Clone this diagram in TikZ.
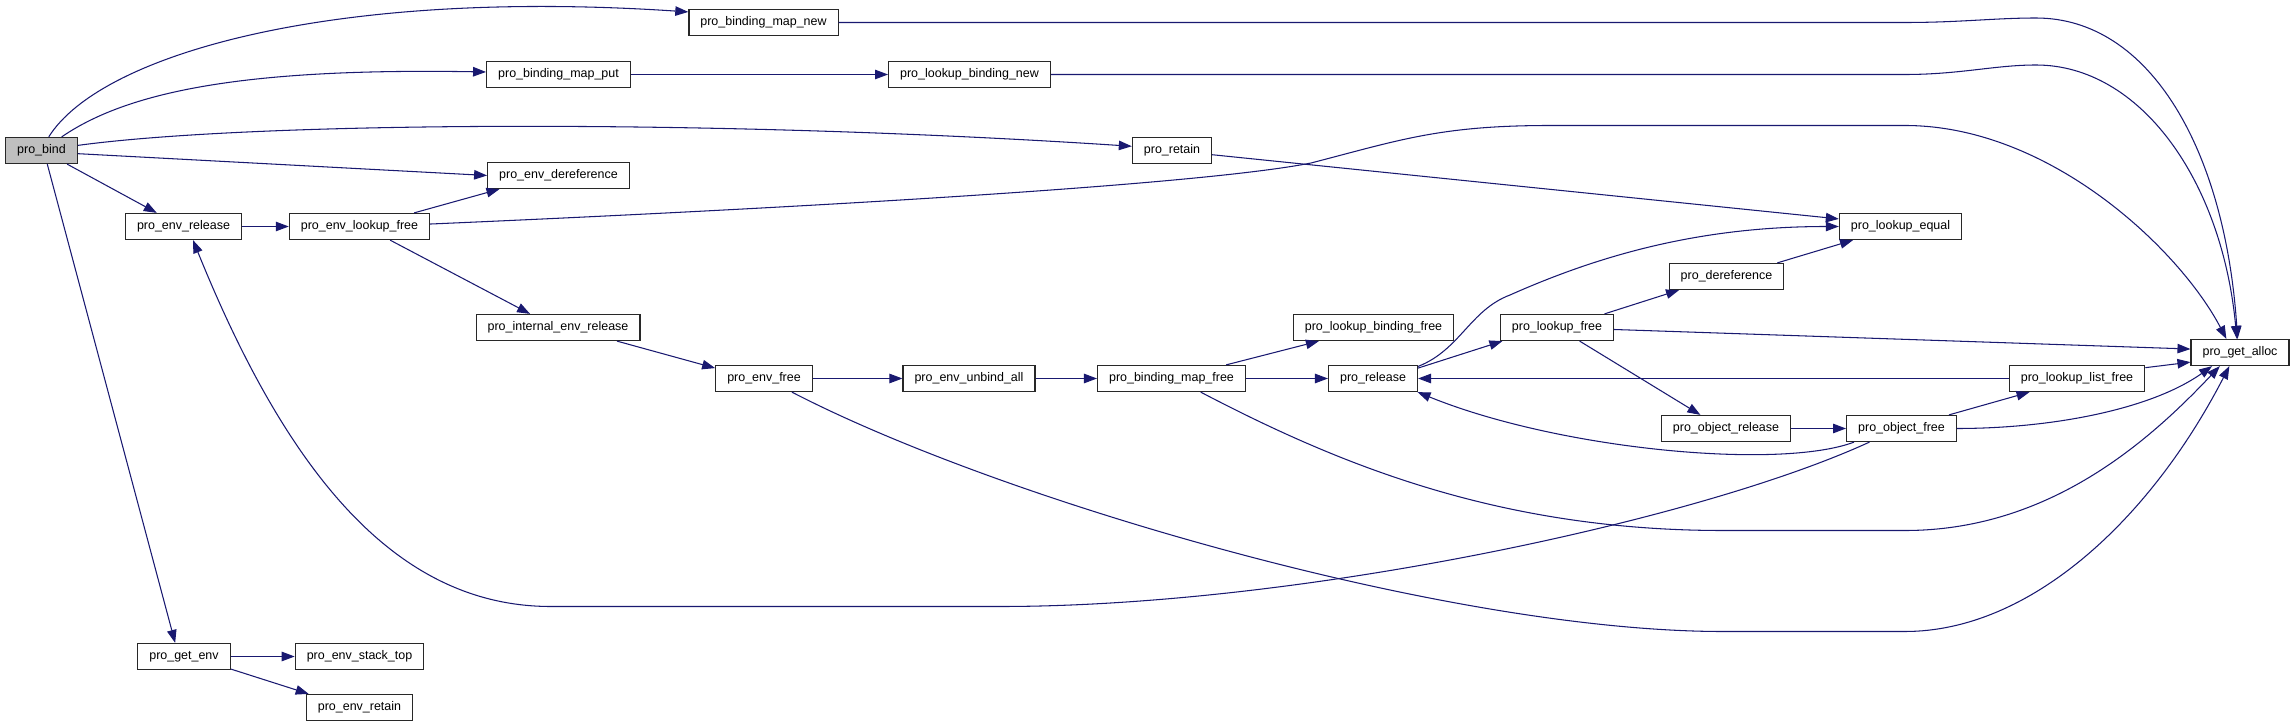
\documentclass[tikz,border=0pt]{standalone}
\usepackage{fontspec}
\setmainfont{Liberation Sans}
\usepackage{xcolor}
\usepackage{tikz}
\usetikzlibrary{arrows.meta, positioning}
\definecolor{edgeblue}{RGB}{25, 25, 112}
\definecolor{rootgray}{RGB}{191, 191, 191}
\definecolor{boxline}{RGB}{40, 40, 40}

\tikzset{
  fn/.style={draw=boxline, line width=0.7pt, fill=white, minimum height=0.52cm,
    inner xsep=0.23cm, inner ysep=0pt, font=\fontsize{7.1}{8}\selectfont},
  root/.style={fn, fill=rootgray},
  call/.style={draw=edgeblue, line width=0.6pt, -{Triangle[length=0.26cm, width=0.19cm]}}
}

\begin{document}
\begin{tikzpicture}[x=0.02cm, y=-0.02cm]
    \useasboundingbox (0,0) rectangle (2293,726);

    % Functions
    \node[root] (bind) at (41.5,150.5) {pro\_bind};
    \node[fn] (mapnew) at (763.5,22.5) {pro\_binding\_map\_new};
    \node[fn] (mapput) at (558.5,74.5) {pro\_binding\_map\_put};
    \node[fn] (lkbindnew) at (969.5,74.5) {pro\_lookup\_binding\_new};
    \node[fn] (retain) at (1172,150.5) {pro\_retain};
    \node[fn] (envderef) at (558.5,175.5) {pro\_env\_dereference};
    \node[fn] (envrel) at (183.5,226.5) {pro\_env\_release};
    \node[fn] (envlkfree) at (359.5,226.5) {pro\_env\_lookup\_free};
    \node[fn] (lkequal) at (1900.5,226.5) {pro\_lookup\_equal};
    \node[fn] (deref) at (1726.5,276.5) {pro\_dereference};
    \node[fn] (intenvrel) at (558,327.5) {pro\_internal\_env\_release};
    \node[fn] (lkbindfree) at (1373.5,327.5) {pro\_lookup\_binding\_free};
    \node[fn] (lkfree) at (1557,327.5) {pro\_lookup\_free};
    \node[fn] (getalloc) at (2240,352.5) {pro\_get\_alloc};
    \node[fn] (envfree) at (764,378.5) {pro\_env\_free};
    \node[fn] (unbindall) at (969,378.5) {pro\_env\_unbind\_all};
    \node[fn] (mapfree) at (1171.5,378.5) {pro\_binding\_map\_free};
    \node[fn] (release) at (1373,378.5) {pro\_release};
    \node[fn] (lklistfree) at (2077,378.5) {pro\_lookup\_list\_free};
    \node[fn] (objrel) at (1726,428.5) {pro\_object\_release};
    \node[fn] (objfree) at (1901.5,428.5) {pro\_object\_free};
    \node[fn] (getenv) at (184,656.5) {pro\_get\_env};
    \node[fn] (stacktop) at (359.5,656.5) {pro\_env\_stack\_top};
    \node[fn] (envretain) at (359.5,707.5) {pro\_env\_retain};

    % Calls from pro_bind
    \draw[call] (bind.62) .. controls (100,55) and (330,-12) .. (mapnew.172);
    \draw[call] (bind.34) .. controls (130,90) and (250,68) .. (mapput.178);
    \draw[call] (bind.8) .. controls (250,122) and (700,118) .. (retain.174);
    \draw[call] (bind.-5) -- (envderef.west);
    \draw[call] (bind.-28) -- (envrel.153);
    \draw[call] (bind.-67) -- (getenv.123);

    % Upper chain
    \draw[call] (mapnew.east) -- (1905,22.5) .. controls (1960,22.5) and (1995,18) .. (2036,18)
        .. controls (2150,18) and (2225,150) .. (getalloc.100);
    \draw[call] (mapput) -- (lkbindnew);
    \draw[call] (lkbindnew.east) -- (1905,74.5) .. controls (1960,74.5) and (1995,65) .. (2036,65)
        .. controls (2140,65) and (2222,180) .. (getalloc.103);
    \draw[call] (retain.-6) -- (lkequal.173);

    % pro_env_release branch
    \draw[call] (envrel) -- (envlkfree);
    \draw[call] (envlkfree.14) -- (envderef.-167);
    \draw[call] (envlkfree.-24) -- (intenvrel.154);
    \draw[call] (envlkfree.2) .. controls (800,208) and (1200,185) .. (1311,163)
        .. controls (1400,140) and (1440,125.5) .. (1550,125.5) -- (1905,125.5)
        .. controls (2050,125.5) and (2180,250) .. (getalloc.135);
    \draw[call] (intenvrel.-13) -- (envfree.168);
    \draw[call] (envfree) -- (unbindall);
    \draw[call] (unbindall) -- (mapfree);
    \draw[call] (mapfree) -- (release);
    \draw[call] (mapfree.14) -- (lkbindfree.-166);

    % pro_release branch
    \draw[call] (release.13) -- (lkfree.-166);
    \draw[call] (release.15) .. controls (1460,350) and (1470,310) .. (1510,295)
        .. controls (1600,255) and (1700,226.5) .. (lkequal.west);
    \draw[call] (lkfree.16) -- (deref.-164);
    \draw[call] (deref.15) -- (lkequal.-164);
    \draw[call] (lkfree.-2) -- (getalloc.176);
    \draw[call] (lkfree.-31) -- (objrel.152);
    \draw[call] (objrel) -- (objfree);
    \draw[call] (objfree.16) -- (lklistfree.-164);
    \draw[call] (lklistfree.9) -- (getalloc.-169);
    \draw[call] (lklistfree.west) -- (release.east);
    \draw[call] (objfree.east) .. controls (2050,428.5) and (2150,410) .. (getalloc.-154);
    \draw[call] (objfree.-164) .. controls (1780,470) and (1560,450) .. (release.-17);

    % Long calls along the bottom
    \draw[call] (objfree.-157) .. controls (1700,520) and (1300,606.5) .. (1000,606.5) -- (551,606.5)
        .. controls (400,606.5) and (290,480) .. (envrel.-55);
    \draw[call] (envfree.-26) .. controls (1000,500) and (1450,631.5) .. (1723,631.5) -- (1905,631.5)
        .. controls (2030,631.5) and (2150,520) .. (getalloc.-128);
    \draw[call] (mapfree.-25) .. controls (1340,465) and (1500,530.5) .. (1723,530.5) -- (1905,530.5)
        .. controls (2050,530.5) and (2150,440) .. (getalloc.-146);

    % pro_get_env
    \draw[call] (getenv) -- (stacktop);
    \draw[call] (getenv.-15) -- (envretain.165);
\end{tikzpicture}
\end{document}
